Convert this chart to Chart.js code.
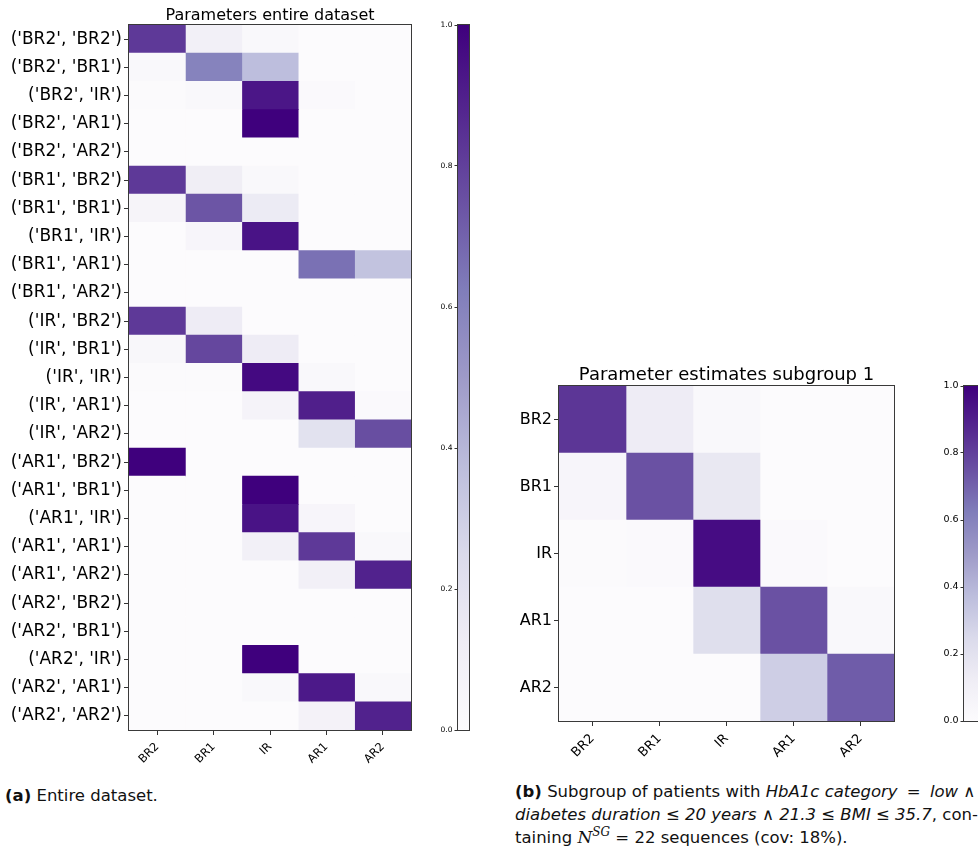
<!DOCTYPE html>
<html>
<head>
<meta charset="utf-8">
<script src="https://cdn.jsdelivr.net/npm/chart.js@4.4.1/dist/chart.umd.min.js"></script>
<style>
    html, body { margin: 0; padding: 0; background: #fff; width: 978px; height: 846px; overflow: hidden; }
    canvas { position: absolute; }
    .cap { position: absolute; font-family: "DejaVu Sans", sans-serif; font-size: 16.5px; color: #111; white-space: nowrap; line-height: 1; }
    .cap i.m { font-family: "DejaVu Serif", serif; font-size: 17px; }
    .cap sup { font-family: "DejaVu Serif", serif; font-style: italic; font-size: 12px; }
    .cap .op { margin: 0 4px; }
</style>
</head>
<body>
<canvas id="entireChart" width="420" height="770" style="left:0;top:0"></canvas>
<canvas id="entireBar" width="60" height="770" style="left:420px;top:0"></canvas>
<canvas id="subChart" width="410" height="420" style="left:500px;top:355px"></canvas>
<canvas id="subBar" width="80" height="420" style="left:910px;top:355px"></canvas>

<div class="cap" style="left:5px;top:788px"><b>(a)</b> Entire dataset.</div>
<div class="cap" style="left:515px;top:784px"><b>(b)</b> Subgroup of patients with <i>HbA1c category</i> <span class="op">=</span> <i>low</i> ∧</div>
<div class="cap" style="left:515px;top:807px"><i>diabetes duration</i> ≤ <i>20 years</i> ∧ <i>21.3</i> ≤ <i>BMI</i> ≤ <i>35.7</i>, con-</div>
<div class="cap" style="left:515px;top:826px">taining <i class="m">N</i><sup>SG</sup> = 22 sequences (cov: 18%).</div>

<script>
// labels
const states = ["BR2", "BR1", "IR", "AR1", "AR2"];
const pairLabels = [];
states.forEach(a => states.forEach(b => pairLabels.push("('" + a + "', '" + b + "')")));

// transition parameters, entire dataset (rows = previous pair, cols = next state)
const entireValues = [
    [0.82, 0.10, 0.03, 0.00, 0.00],
    [0.03, 0.60, 0.37, 0.00, 0.00],
    [0.01, 0.03, 0.93, 0.02, 0.00],
    [0.00, 0.00, 1.00, 0.00, 0.00],
    [0.00, 0.00, 0.00, 0.00, 0.00],
    [0.82, 0.12, 0.03, 0.00, 0.00],
    [0.06, 0.74, 0.14, 0.00, 0.00],
    [0.00, 0.05, 0.94, 0.00, 0.00],
    [0.00, 0.00, 0.00, 0.66, 0.35],
    [0.00, 0.00, 0.00, 0.00, 0.00],
    [0.82, 0.13, 0.00, 0.00, 0.00],
    [0.04, 0.78, 0.13, 0.00, 0.00],
    [0.01, 0.01, 0.97, 0.03, 0.00],
    [0.00, 0.00, 0.07, 0.90, 0.02],
    [0.00, 0.00, 0.00, 0.20, 0.76],
    [1.00, 0.00, 0.00, 0.00, 0.00],
    [0.00, 0.00, 1.00, 0.00, 0.00],
    [0.00, 0.00, 0.94, 0.05, 0.00],
    [0.00, 0.00, 0.10, 0.82, 0.03],
    [0.00, 0.00, 0.00, 0.10, 0.89],
    [0.00, 0.00, 0.00, 0.00, 0.00],
    [0.00, 0.00, 0.00, 0.00, 0.00],
    [0.00, 0.00, 1.00, 0.00, 0.00],
    [0.00, 0.00, 0.03, 0.92, 0.03],
    [0.00, 0.00, 0.00, 0.08, 0.89]
];

// parameter estimates, subgroup 1
const subgroupValues = [
    [0.83, 0.13, 0.03, 0.00, 0.00],
    [0.05, 0.75, 0.16, 0.00, 0.00],
    [0.01, 0.02, 0.96, 0.02, 0.00],
    [0.00, 0.00, 0.22, 0.75, 0.03],
    [0.00, 0.00, 0.00, 0.30, 0.72]
];

const colorbarTicks = [0, 0.2, 0.4, 0.6, 0.8, 1.0];

// matplotlib "Purples"
const purpleStops = ["#fcfbfd", "#efedf5", "#dadaeb", "#bcbddc", "#9e9ac8", "#807dba", "#6a51a3", "#54278f", "#3f007d"];

function hexToRgb(h)
{
    return [1, 3, 5].map(i => parseInt(h.substr(i, 2), 16));
}

function purples(v)
{
    const t = Math.max(0, Math.min(1, v)) * (purpleStops.length - 1);
    const i = Math.min(Math.floor(t), purpleStops.length - 2);
    const f = t - i;
    const a = hexToRgb(purpleStops[i]);
    const b = hexToRgb(purpleStops[i + 1]);
    const c = a.map((x, k) => Math.round(x + (b[k] - x) * f));
    return `rgb(${c[0]},${c[1]},${c[2]})`;
}

const FONT = "'DejaVu Sans', sans-serif";

// frame round the plot area + title centred over it
const framePlugin = {
    id: "frame",
    afterDraw(chart, args, opts) {
        const a = chart.chartArea;
        const ctx = chart.ctx;
        ctx.save();
        ctx.strokeStyle = "#3a3a3a";
        ctx.lineWidth = 1;
        ctx.strokeRect(a.left - 0.5, a.top - 0.5, a.right - a.left + 1, a.bottom - a.top + 1);
        if (opts.title)
        {
            ctx.fillStyle = "#000";
            ctx.font = opts.size + "px " + FONT;
            ctx.textAlign = "center";
            ctx.textBaseline = "alphabetic";
            ctx.fillText(opts.title, (a.left + a.right) / 2, a.top - opts.gap);
        }
        ctx.restore();
    }
};

function makeHeatmap(id, rows, values, cfg)
{
    const datasets = states.map((s, j) => ({
        label: s,
        data: rows.map(() => 1),
        backgroundColor: rows.map((r, i) => purples(values[i][j])),
        borderWidth: 0,
        barPercentage: 1,
        categoryPercentage: 1
    }));

    return new Chart(document.getElementById(id), {
        type: "bar",
        data: { labels: rows, datasets: datasets },
        plugins: [framePlugin],
        options: {
            indexAxis: "y",
            responsive: false,
            animation: false,
            layout: { padding: cfg.padding },
            plugins: {
                legend: { display: false },
                tooltip: { enabled: false },
                frame: { title: cfg.title, size: cfg.titleSize, gap: cfg.titleGap }
            },
            scales: {
                x: {
                    type: "linear",
                    stacked: true,
                    min: 0,
                    max: states.length,
                    afterBuildTicks: axis => { axis.ticks = states.map((s, j) => ({ value: j + 0.5 })); },
                    afterFit: scale => { scale.height = cfg.xHeight; },
                    ticks: {
                        autoSkip: false,
                        minRotation: 45,
                        maxRotation: 45,
                        padding: 5,
                        color: "#000",
                        font: { family: FONT, size: cfg.xFont },
                        callback: (v, i) => states[i]
                    },
                    grid: { drawOnChartArea: false, drawTicks: true, tickLength: 5, color: "#333" },
                    border: { display: false }
                },
                y: {
                    stacked: true,
                    afterFit: scale => { scale.width = cfg.yWidth; },
                    ticks: {
                        padding: 2,
                        color: "#000",
                        font: { family: FONT, size: cfg.yFont }
                    },
                    grid: { offset: false, drawOnChartArea: false, drawTicks: true, tickLength: 5, color: "#333" },
                    border: { display: false }
                }
            }
        }
    });
}

function makeColorbar(id, cfg)
{
    return new Chart(document.getElementById(id), {
        type: "bar",
        data: {
            labels: ["value"],
            datasets: [{
                data: [1],
                barPercentage: 1,
                categoryPercentage: 1,
                borderWidth: 0,
                backgroundColor: ctx => {
                    const area = ctx.chart.chartArea;
                    if (!area) return purpleStops[4];
                    const g = ctx.chart.ctx.createLinearGradient(0, area.bottom, 0, area.top);
                    purpleStops.forEach((c, i) => g.addColorStop(i / (purpleStops.length - 1), c));
                    return g;
                }
            }]
        },
        plugins: [framePlugin],
        options: {
            responsive: false,
            animation: false,
            layout: { padding: cfg.padding },
            plugins: { legend: { display: false }, tooltip: { enabled: false }, frame: {} },
            scales: {
                x: { display: false },
                y: {
                    min: 0,
                    max: 1,
                    position: "left",
                    afterBuildTicks: axis => { axis.ticks = colorbarTicks.map(v => ({ value: v })); },
                    afterFit: scale => { scale.width = cfg.yWidth; },
                    ticks: {
                        padding: 2,
                        color: "#000",
                        font: { family: FONT, size: cfg.font },
                        callback: v => v.toFixed(1)
                    },
                    grid: { drawOnChartArea: false, drawTicks: true, tickLength: 3.5, color: "#333" },
                    border: { display: false }
                }
            }
        }
    });
}

makeHeatmap("entireChart", pairLabels, entireValues, {
    title: "Parameters entire dataset", titleSize: 16, titleGap: 5,
    padding: { top: 25, right: 9, bottom: 0, left: 0 },
    xHeight: 40, yWidth: 129, xFont: 11.5, yFont: 17
});
makeColorbar("entireBar", { padding: { top: 25, right: 11, bottom: 40, left: 0 }, yWidth: 38, font: 7.5 });

makeHeatmap("subChart", states, subgroupValues, {
    title: "Parameter estimates subgroup 1", titleSize: 18, titleGap: 6,
    padding: { top: 31, right: 16, bottom: 0, left: 0 },
    xHeight: 54, yWidth: 59, xFont: 13, yFont: 16
});
makeColorbar("subBar", { padding: { top: 31, right: 0, bottom: 54, left: 0 }, yWidth: 54, font: 9.5 });
</script>
</body>
</html>
